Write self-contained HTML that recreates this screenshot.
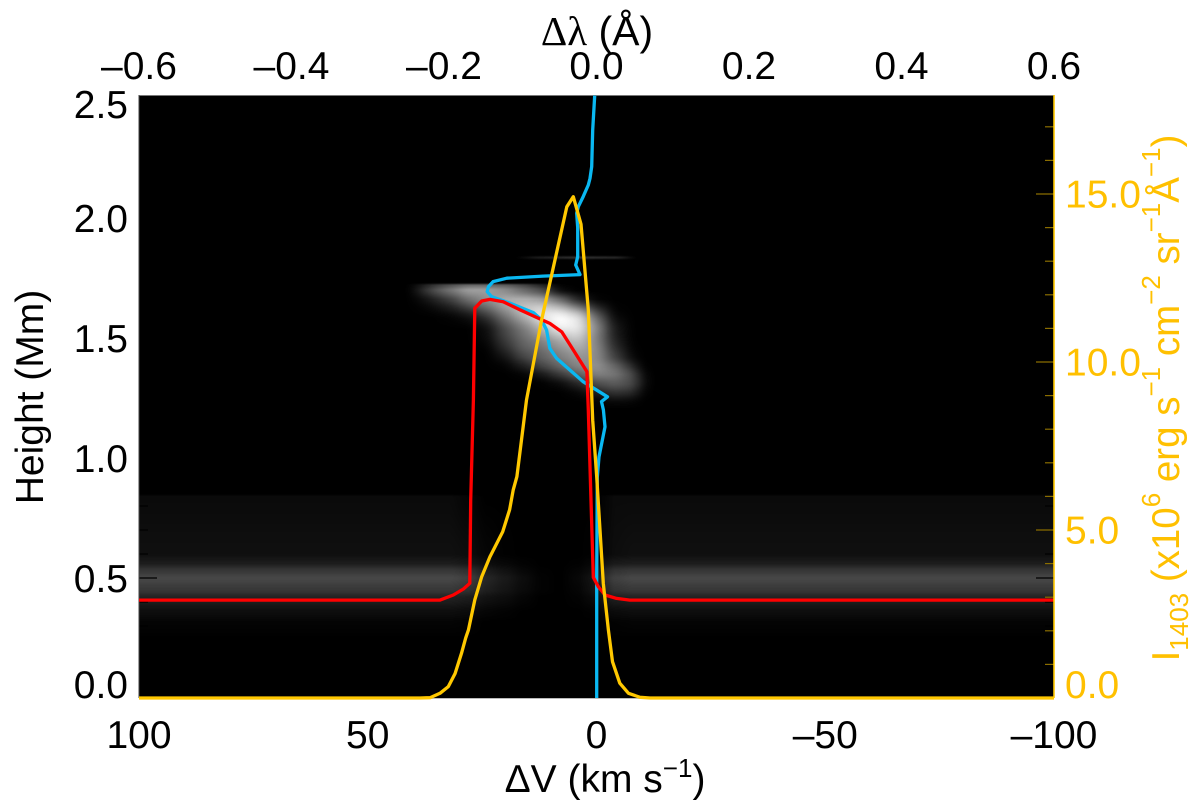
<!DOCTYPE html>
<html lang="en">
<head>
<meta charset="utf-8">
<title>Line formation chart</title>
<style>
html,body{margin:0;padding:0;background:#fff;}
#chart-root{position:relative;width:1200px;height:811px;overflow:hidden;background:#fff;}
#heatmap{position:absolute;left:139px;top:95px;width:915px;height:603px;display:block;}
#overlay{position:absolute;left:0;top:0;width:1200px;height:811px;}
text{font-family:"Liberation Sans",sans-serif;}
</style>
</head>
<body>
<div id="chart-root">
<canvas id="heatmap" width="915" height="603"></canvas>
<svg id="overlay" viewBox="0 0 1200 811" xmlns="http://www.w3.org/2000/svg">
  <g id="ticks"></g>
  <line x1="139" y1="95.5" x2="1054" y2="95.5" stroke="#777" stroke-width="1"/>
  <line x1="139" y1="698.5" x2="1054" y2="698.5" stroke="#bbb" stroke-width="1"/>
  <line x1="139" y1="95" x2="139" y2="698" stroke="#444" stroke-width="1"/>
  <g id="series" fill="none" stroke-width="3.3" stroke-linejoin="round"></g>
  <line x1="1054" y1="95" x2="1054" y2="698" stroke="#ffc800" stroke-width="1.6"/>
  <g id="labels" font-size="39"></g>
  <text x="597" y="45" font-size="41" text-anchor="middle"><tspan font-family="'Liberation Serif',serif">Δλ</tspan> (Å)</text>
  <text x="605" y="792" font-size="39" text-anchor="middle">ΔV (km s<tspan font-size="26" dy="-15">−1</tspan><tspan dy="15">)</tspan></text>
  <text transform="translate(43,397) rotate(-90)" font-size="39" text-anchor="middle">Height (Mm)</text>
  <text transform="translate(1179,398) rotate(-90)" font-size="38.5" text-anchor="middle" fill="#ffc000">I<tspan font-size="26" dy="9">1403</tspan><tspan dy="-9"> (x10</tspan><tspan font-size="26" dy="-19">6</tspan><tspan dy="19"> erg s</tspan><tspan font-size="26" dy="-19">−1</tspan><tspan dy="19"> cm</tspan><tspan font-size="26" dy="-19">−2</tspan><tspan dy="19"> sr</tspan><tspan font-size="26" dy="-19">−1</tspan><tspan dy="19">Å</tspan><tspan font-size="26" dy="-19">−1</tspan><tspan dy="19">)</tspan></text>
</svg>
</div>
<script>
// ---- Axis data ----
const velocityTicks = [100, 50, 0, -50, -100];
const velocityTickLabels = ["100", "50", "0", "–50", "–100"];
const wavelengthTicks = [-0.6, -0.4, -0.2, 0, 0.2, 0.4, 0.6];
const wavelengthTickLabels = ["–0.6", "–0.4", "–0.2", "0.0", "0.2", "0.4", "0.6"];
const heightTicks = [0, 0.5, 1, 1.5, 2, 2.5];
const heightTickLabels = ["0.0", "0.5", "1.0", "1.5", "2.0", "2.5"];
const intensityTicks = [0, 5, 10, 15];
const intensityTickLabels = ["0.0", "5.0", "10.0", "15.0"];

// ---- Series: velocity (km/s) and height (Mm) ----
const blueVelocity = [0.4,0.83,1.05,1.42,1.79,2.9,3.98,4.33,4.1,4.1,4.55,3.6,11.7,19.6,22.6,23.6,23.9,22.9,18.9,13.8,12,10.9,10.2,8.7,2.9,-2.4,-1.1,-1.5,-1.86,-0.55,-0.17,-0.04,-0.04];
const blueHeight = [2.51,2.367,2.214,2.165,2.1375,2.089,2.047,2.02,1.96,1.839,1.804,1.764,1.758,1.749,1.735,1.714,1.693,1.672,1.645,1.606,1.575,1.533,1.457,1.415,1.318,1.255,1.235,1.2,1.13,1.005,0.92,0.5,0];
const redVelocity = [100,34.2,31.3,29.1,27.7,27.5,26.9,26.6,25.1,23.3,20.4,16.7,12.7,10.2,7.6,5.07,2.1,1.8,0.7,-0.39,-1.86,-4.4,-7.3,-100];
const redHeight = [0.408,0.408,0.429,0.454,0.478,0.825,1.242,1.624,1.654,1.661,1.651,1.617,1.582,1.561,1.526,1.45,1.36,1.2,0.503,0.464,0.429,0.415,0.408,0.408];
const goldVelocity = [100,38.6,36.4,34.2,32.4,30.9,29.5,28.6,28,26.6,25.1,23.3,20.5,19,18.2,17.4,15.3,12,6.5,5.07,3.39,1.79,0.83,-0.04,-1.49,-2.6,-3.5,-5.1,-7,-9.5,-11.7,-100];
const goldIntensity = [0,0,0.01,0.14,0.34,0.73,1.33,1.79,2.02,2.92,3.61,4.2,4.95,5.6,6.19,6.59,8.87,11.25,14.62,14.92,14.1,11.55,8.27,6.59,3.41,2.02,1.08,0.44,0.14,0.02,0,0];

// ---- Heatmap: brightness samples (0-1) ----
const blobVelocity = [41,38,36,32,28,24,20,16,12,8,4,0,-4,-8,-10,-12];
const blobHeight = [1.73,1.72,1.70,1.65,1.60,1.55,1.50,1.45,1.40,1.367,1.33,1.29,1.25,1.22];
const blobValues = [
 [0,0,0,0,0,0,0,0,0,0,0,0,0,0,0,0],
 [0,.1,.2,.32,.42,.42,.38,.28,.15,.01,0,0,0,0,0,0],
 [0,.15,.28,.45,.62,.62,.55,.42,.3,.05,0,0,0,0,0,0],
 [0,.03,.08,.2,.4,.55,.7,.75,.7,.5,.18,.02,0,0,0,0],
 [0,0,0,.02,.08,.25,.5,.75,.95,1,.85,.35,.02,0,0,0],
 [0,0,0,0,0,.06,.3,.5,.75,1,.95,.55,.1,0,0,0],
 [0,0,0,0,0,.04,.25,.42,.55,.7,.8,.5,.12,0,0,0],
 [0,0,0,0,0,0,.15,.35,.42,.55,.65,.55,.2,.01,0,0],
 [0,0,0,0,0,0,.03,.2,.35,.45,.55,.55,.3,.06,0,0],
 [0,0,0,0,0,0,0,.04,.18,.35,.5,.6,.5,.25,.02,0],
 [0,0,0,0,0,0,0,0,.01,.1,.25,.4,.42,.3,.1,0],
 [0,0,0,0,0,0,0,0,0,0,.06,.2,.3,.25,.05,0],
 [0,0,0,0,0,0,0,0,0,0,0,.02,.08,.05,0,0],
 [0,0,0,0,0,0,0,0,0,0,0,0,0,0,0,0]
];
const bandVelocity = [101,40,32,28,24,20,16,12,8,4,2,0,-2,-4,-8,-101];
const bandHeight = [0.85,0.84,0.60,0.5625,0.53,0.5,0.45,0.417,0.354,0.3125,0.24];
const bandValues = [
 [0,0,0,0,0,0,0,0,0,0,0,0,0,0,0,0],
 [.04,.04,.04,.02,0,0,0,0,0,0,0,0,.02,.04,.04,.04],
 [.06,.06,.06,.05,.02,.005,0,0,0,0,.005,.01,.03,.05,.06,.06],
 [.11,.11,.11,.09,.05,.03,.01,0,0,.005,.02,.03,.07,.1,.11,.11],
 [.22,.22,.22,.19,.11,.07,.03,.005,0,.02,.04,.08,.15,.2,.22,.22],
 [.28,.28,.28,.25,.15,.1,.05,.01,0,.03,.06,.11,.19,.25,.28,.28],
 [.22,.22,.22,.19,.12,.08,.04,.01,0,.02,.05,.09,.15,.2,.22,.22],
 [.13,.13,.13,.11,.07,.05,.02,0,0,.01,.03,.05,.09,.12,.13,.13],
 [.05,.05,.05,.04,.02,.01,0,0,0,0,.005,.01,.03,.04,.05,.05],
 [.015,.015,.015,.01,0,0,0,0,0,0,0,0,.005,.01,.015,.015],
 [0,0,0,0,0,0,0,0,0,0,0,0,0,0,0,0]
];
const streakVelocity = [18,12,4,-4,-9];
const streakHeight = [1.845,1.835,1.825];
const streakValues = [
 [0,0,0,0,0],
 [0,.12,.2,.16,0],
 [0,0,0,0,0]
];

// ---- Axis functions ----
const xV = v => 596.5 - v * 4.575;
const xL = l => 139 + (l + 0.6) / 1.2 * 915;
const yH = h => 698 - h * 240;
const yI = i => 698 - i * 33.6;
const vOfX = x => (596.5 - x) / 4.575;
const hOfY = y => (698 - y) / 240;

const NS = "http://www.w3.org/2000/svg";
function svgEl(tag, parent){
  const el = document.createElementNS(NS, tag);
  parent.appendChild(el);
  return el;
}

// ---- Heatmap ----
function bracket(arr, val){
  // arr is descending; returns index i with arr[i] >= val >= arr[i+1], or -1
  if (val > arr[0] || val < arr[arr.length - 1]) return -1;
  for (let i = 0; i < arr.length - 1; i++) if (val <= arr[i] && val >= arr[i + 1]) return i;
  return -1;
}
function smooth(t){ return t * t * (3 - 2 * t) * 0.5 + t * 0.5; }
function sampleGrid(vs, hs, grid, v, h){
  const c = bracket(vs, v), r = bracket(hs, h);
  if (c < 0 || r < 0) return 0;
  const tc = smooth((vs[c] - v) / (vs[c] - vs[c + 1]));
  const tr = smooth((hs[r] - h) / (hs[r] - hs[r + 1]));
  const a = grid[r][c] * (1 - tc) + grid[r][c + 1] * tc;
  const b = grid[r + 1][c] * (1 - tc) + grid[r + 1][c + 1] * tc;
  return a * (1 - tr) + b * tr;
}
// Soft sampling of the blob: averages neighbours, keeps the sharp top edge
function softBlob(x, y){
  const h0 = hOfY(y);
  if (h0 > 1.74 || h0 < 1.18) return 0;
  const ry = h0 > 1.66 ? 0 : 5;
  let sum = 0, n = 0;
  for (let dy = -ry; dy <= ry; dy += 5){
    for (let dx = -6; dx <= 6; dx += 3){
      sum += sampleGrid(blobVelocity, blobHeight, blobValues, vOfX(x + dx), hOfY(y + dy));
      n++;
    }
  }
  return sum / n;
}
(function drawHeatmap(){
  const cv = document.getElementById("heatmap");
  const ctx = cv.getContext("2d");
  const img = ctx.createImageData(cv.width, cv.height);
  for (let py = 0; py < cv.height; py++){
    const y = py + 95.5;
    const h = hOfY(y);
    for (let px = 0; px < cv.width; px++){
      const x = px + 139.5;
      const v = vOfX(x);
      let val = sampleGrid(bandVelocity, bandHeight, bandValues, v, h)
              + softBlob(x, y)
              + sampleGrid(streakVelocity, streakHeight, streakValues, v, h);
      const g = Math.min(255, Math.round(val * 255));
      const k = (py * cv.width + px) * 4;
      img.data[k] = g; img.data[k + 1] = g; img.data[k + 2] = g; img.data[k + 3] = 255;
    }
  }
  ctx.putImageData(img, 0, 0);
})();

// ---- Ticks ----
const ticksG = document.getElementById("ticks");
function tick(x1, y1, x2, y2, color, name){
  const l = svgEl("line", ticksG);
  l.setAttribute("x1", x1); l.setAttribute("y1", y1);
  l.setAttribute("x2", x2); l.setAttribute("y2", y2);
  l.setAttribute("stroke", color);
  l.setAttribute("stroke-width", 1.2);
  
  
}
for (let i = 0; i <= 25; i++){
  const len = i % 5 === 0 ? 18 : 9;
  const y = yH(i / 10);
  tick(139, y, 139 + len, y, "#000", "left-tick");
  tick(1054 - len, y, 1054, y, "#000", "height-right-tick");
}
for (let i = 0; i <= 17; i++){
  const len = i % 5 === 0 ? 18 : 9;
  const y = yI(i);
  tick(1054 - len, y, 1054, y, "#8a6d00", "intensity-tick");
}

// ---- Series ----
const seriesG = document.getElementById("series");
function polyline(xs, ys, color, name){
  const p = svgEl("polyline", seriesG);
  p.setAttribute("points", xs.map((x, i) => x.toFixed(1) + "," + ys[i].toFixed(1)).join(" "));
  p.setAttribute("stroke", color);
  
  
}
polyline(blueVelocity.map(xV), blueHeight.map(yH), "#0ab8f2", "velocity-line");
polyline(redVelocity.map(xV), redHeight.map(yH), "#ff0000", "formation-height-line");
polyline(goldVelocity.map(xV), goldIntensity.map(yI), "#ffc800", "intensity-line");

// ---- Tick labels ----
const labelsG = document.getElementById("labels");
function label(x, y, str, anchor, color, name){
  const t = svgEl("text", labelsG);
  t.setAttribute("x", x); t.setAttribute("y", y);
  t.setAttribute("text-anchor", anchor);
  t.setAttribute("fill", color);
  t.textContent = str;
  
  
}
velocityTicks.forEach((v, i) => label(xV(v), 748, velocityTickLabels[i], "middle", "#000", "velocity-tick-label"));
wavelengthTicks.forEach((l, i) => label(xL(l), 79, wavelengthTickLabels[i], "middle", "#000", "wavelength-tick-label"));
heightTicks.forEach((h, i) => label(128, Math.min(698, Math.max(118, yH(h) + 14)), heightTickLabels[i], "end", "#000", "height-tick-label"));
intensityTicks.forEach((v, i) => label(1065, Math.min(698, yI(v) + 13.5), intensityTickLabels[i], "start", "#ffc000", "intensity-tick-label"));
</script>
</body>
</html>
